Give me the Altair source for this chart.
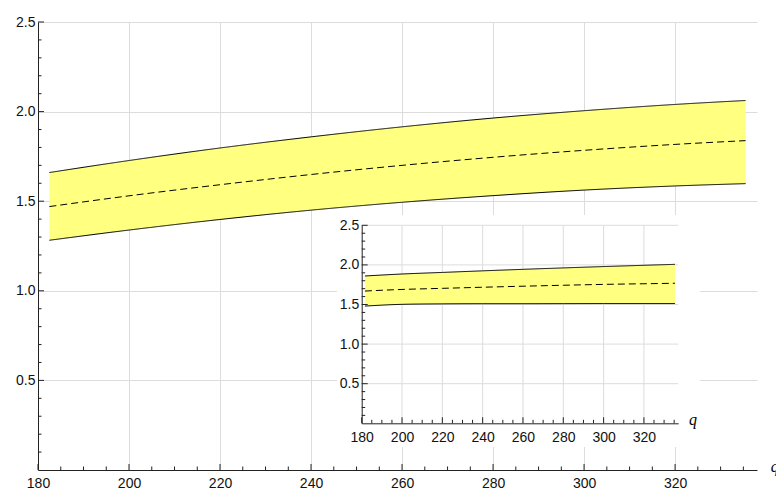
import altair as alt
import pandas as pd

# ---- band data: main panel ----
main_q = [182.5, 200, 220, 240, 260, 280, 300, 320, 335.5]
main_upper = [1.66, 1.727, 1.797, 1.859, 1.915, 1.964, 2.005, 2.040, 2.062]
main_mid = [1.47, 1.530, 1.592, 1.649, 1.70, 1.745, 1.784, 1.817, 1.838]
main_lower = [1.282, 1.339, 1.398, 1.450, 1.494, 1.531, 1.562, 1.585, 1.598]

# ---- band data: inset panel ----
inset_q = [181.6, 200, 220, 240, 260, 280, 300, 320, 335.4]
inset_upper = [1.86, 1.885, 1.905, 1.925, 1.944, 1.962, 1.979, 1.995, 2.007]
inset_mid = [1.67, 1.69, 1.704, 1.718, 1.731, 1.743, 1.754, 1.762, 1.768]
inset_lower = [1.48, 1.502, 1.508, 1.51, 1.51, 1.511, 1.512, 1.512, 1.512]

# ---- tick values ----
x_major = [180, 200, 220, 240, 260, 280, 300, 320]
x_minor = [v for v in range(185, 340, 5) if v % 20 != 0]
y_major = [0.5, 1.0, 1.5, 2.0, 2.5]
y_minor = [round(i / 10, 1) for i in range(1, 25) if i % 5 != 0]

# ---- layout ----
W, H = 719, 448
MAIN_X_DOM = [180, 338]
MAIN_Y_DOM = [0, 2.5]
INSET_X_DOM = [180, 337]
INSET_Y_DOM = [0, 2.5]
INSET_X_RANGE = [323.7, 640.2]
INSET_Y_RANGE = [401.3, 203.3]

FONT = "Liberation Sans"
LABEL_COLOR = "#111111"
AXIS_COLOR = "#222222"
GRID_COLOR = "#dcdcdc"
FILL = "#ffff80"

sx_main = alt.Scale(domain=MAIN_X_DOM, nice=False, zero=False)
sy_main = alt.Scale(domain=MAIN_Y_DOM, nice=False)
sx_in = alt.Scale(domain=INSET_X_DOM, range=INSET_X_RANGE, nice=False, zero=False)
sy_in = alt.Scale(domain=INSET_Y_DOM, range=INSET_Y_RANGE, nice=False)

# pixels per data unit, used to express tick lengths in data units
px_main_x = W / (MAIN_X_DOM[1] - MAIN_X_DOM[0])
px_main_y = H / (MAIN_Y_DOM[1] - MAIN_Y_DOM[0])
px_in_x = (INSET_X_RANGE[1] - INSET_X_RANGE[0]) / (INSET_X_DOM[1] - INSET_X_DOM[0])
px_in_y = (INSET_Y_RANGE[0] - INSET_Y_RANGE[1]) / (INSET_Y_DOM[1] - INSET_Y_DOM[0])

MAJOR_LEN, MINOR_LEN = 6.0, 3.5


def axis_kw():
    return dict(
        labelFont=FONT, labelFontSize=14, labelColor=LABEL_COLOR,
        domainColor=AXIS_COLOR, domainWidth=1, ticks=False, title=None,
        labelFlush=False, labelOverlap=False, gridColor=GRID_COLOR, gridWidth=1,
    )


class Panel:
    """One set of x/y scales with its own axes; every layer shares them."""

    def __init__(self, sx, sy, ax, ay):
        self.sx, self.sy, self.ax, self.ay = sx, sy, ax, ay

    def X(self, field):
        return alt.X(field, scale=self.sx, axis=self.ax)

    def Y(self, field):
        return alt.Y(field, scale=self.sy, axis=self.ay)

    def band(self, q, lo, mid, hi):
        df = pd.DataFrame({"q": q, "lower": lo, "mid": mid, "upper": hi})
        base = alt.Chart(df)
        layers = [base.mark_area(color=FILL, opacity=1, interpolate="monotone").encode(
            x=self.X("q:Q"), y=self.Y("lower:Q"), y2="upper:Q")]
        for col, dash in (("upper", [1, 0]), ("lower", [1, 0]), ("mid", [7, 4])):
            layers.append(base.mark_line(color="#000000", strokeWidth=1, strokeDash=dash,
                                         interpolate="monotone").encode(
                x=self.X("q:Q"), y=self.Y(f"{col}:Q")))
        return layers

    def ticks(self, x0, y0, pxx, pxy):
        xt = pd.DataFrame({
            "t": x_major + x_minor,
            "a": [y0] * (len(x_major) + len(x_minor)),
            "b": [y0 + MAJOR_LEN / pxy] * len(x_major) + [y0 + MINOR_LEN / pxy] * len(x_minor),
        })
        yt = pd.DataFrame({
            "t": y_major + y_minor,
            "a": [x0] * (len(y_major) + len(y_minor)),
            "b": [x0 + MAJOR_LEN / pxx] * len(y_major) + [x0 + MINOR_LEN / pxx] * len(y_minor),
        })
        xr = alt.Chart(xt).mark_rule(color=AXIS_COLOR, strokeWidth=1).encode(
            x=self.X("t:Q"), y=self.Y("a:Q"), y2="b:Q")
        yr = alt.Chart(yt).mark_rule(color=AXIS_COLOR, strokeWidth=1).encode(
            y=self.Y("t:Q"), x=self.X("a:Q"), x2="b:Q")
        return [xr, yr]

    def label(self, xpos):
        return alt.Chart(pd.DataFrame({"x": [xpos], "y": [0.0], "t": ["q"]})).mark_text(
            font="Liberation Serif", fontStyle="italic", fontSize=16, align="left",
            baseline="alphabetic", dy=2, color="#000000",
        ).encode(x=self.X("x:Q"), y=self.Y("y:Q"), text="t:N")


# ---- main panel ----
main = Panel(
    sx_main, sy_main,
    alt.Axis(values=x_major, format="d", grid=True, labelPadding=6, zindex=0, **axis_kw()),
    alt.Axis(values=y_major, format=".1f", grid=True, labelPadding=3, zindex=0, **axis_kw()),
)
main_layer = alt.layer(
    *main.band(main_q, main_lower, main_mid, main_upper),
    *main.ticks(180, 0, px_main_x, px_main_y),
    main.label(341),
)

# ---- inset panel ----
inset = Panel(
    sx_in, sy_in,
    alt.Axis(values=x_major, format="d", grid=False, orient="bottom",
             offset=INSET_Y_RANGE[0] - H, labelPadding=7, zindex=1, **axis_kw()),
    alt.Axis(values=y_major, format=".1f", grid=False, orient="left",
             offset=-INSET_X_RANGE[0], labelPadding=3, zindex=1, **axis_kw()),
)

# white backing panel behind the inset
box = alt.Chart(pd.DataFrame({"x0": [167.7], "x1": [347.8], "y0": [-0.3], "y1": [2.63]})).mark_rect(
    color="#ffffff"
).encode(x=inset.X("x0:Q"), x2="x1:Q", y=inset.Y("y0:Q"), y2="y1:Q")

gx = alt.Chart(pd.DataFrame({
    "t": x_major[1:], "a": [INSET_Y_DOM[0]] * 7, "b": [INSET_Y_DOM[1]] * 7,
})).mark_rule(color=GRID_COLOR, strokeWidth=1).encode(
    x=inset.X("t:Q"), y=inset.Y("a:Q"), y2="b:Q")
gy = alt.Chart(pd.DataFrame({
    "t": y_major, "a": [INSET_X_DOM[0]] * 5, "b": [INSET_X_DOM[1]] * 5,
})).mark_rule(color=GRID_COLOR, strokeWidth=1).encode(
    y=inset.Y("t:Q"), x=inset.X("a:Q"), x2="b:Q")

inset_layer = alt.layer(
    box, gx, gy,
    *inset.band(inset_q, inset_lower, inset_mid, inset_upper),
    *inset.ticks(180, 0, px_in_x, px_in_y),
    inset.label(342.4),
)

chart = alt.layer(main_layer, inset_layer).resolve_scale(
    x="independent", y="independent"
).properties(
    width=W, height=H,
    autosize=alt.AutoSizeParams(type="none"),
    padding={"left": 38, "top": 22, "right": 19, "bottom": 20},
    background="#ffffff",
).configure_view(stroke=None)

chart.save("out.html", embed_options={"renderer": "svg", "actions": False})
